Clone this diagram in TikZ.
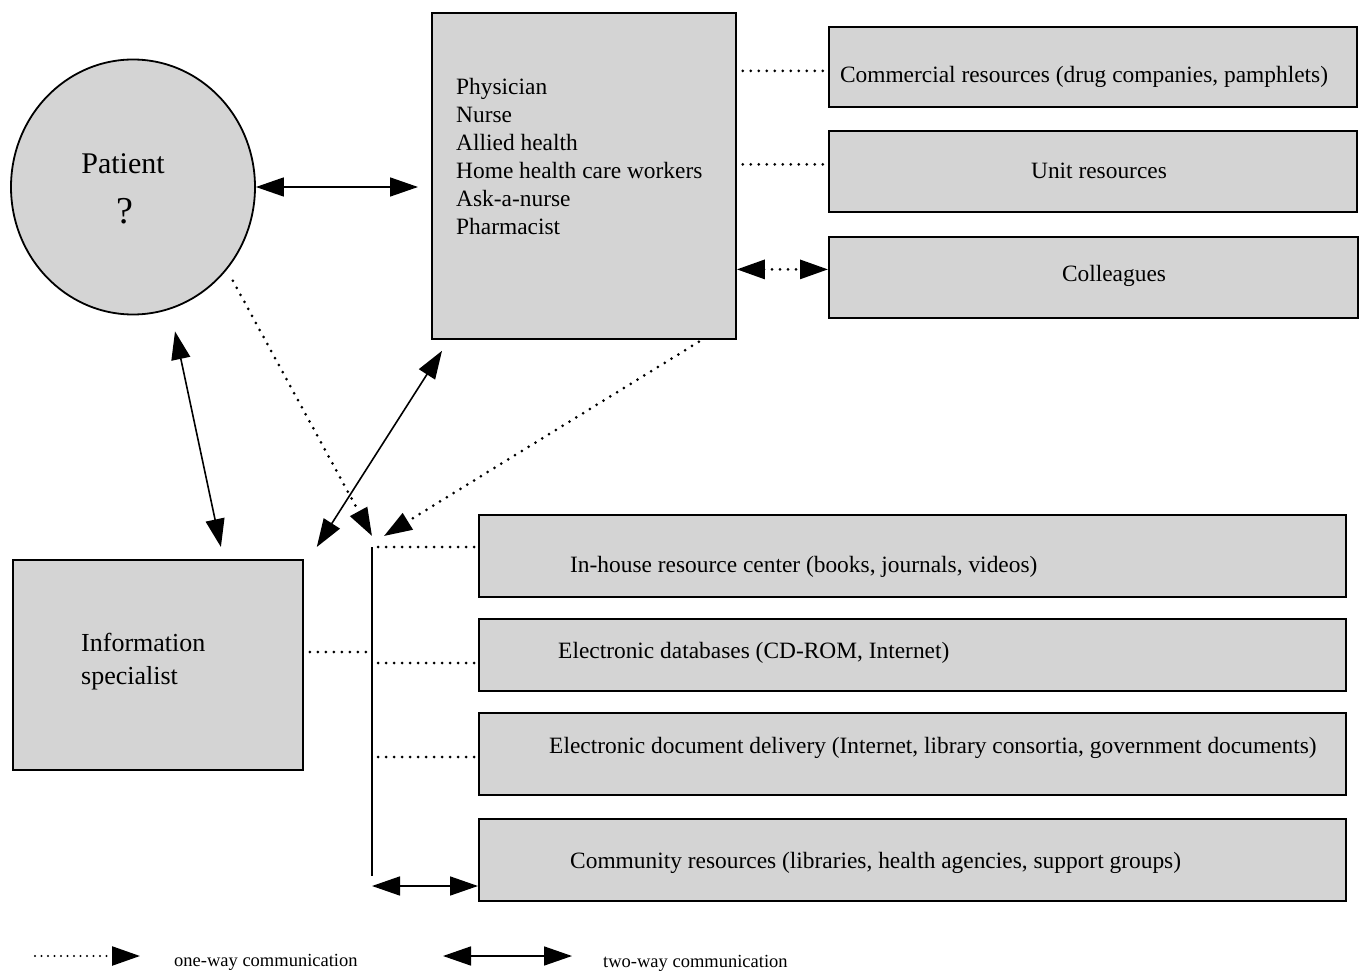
\documentclass[tikz,border=0pt]{standalone}
\usepackage{fontspec}
\setmainfont{Liberation Serif}
\usetikzlibrary{arrows.meta,shapes.geometric}
\begin{document}
\begin{tikzpicture}[x=1pt,y=-1pt,
  box/.style={draw=black,line width=1.8pt,fill=black!17,rectangle,inner sep=0pt,anchor=north west},
  txt/.style={inner sep=0pt,font=\fontsize{23.4}{28}\selectfont},
  onetip/.style={-{Triangle[length=28pt,width=19pt]}},
  twoway/.style={line width=1.6pt,{Triangle[length=28pt,width=19pt]}-{Triangle[length=28pt,width=19pt]}},
  dotline/.style={line width=3pt,dash pattern=on 0pt off 8pt,line cap=round},
  solidline/.style={line width=1.8pt}
]
\useasboundingbox (0,0) rectangle (1360,973);

% Patient
\node[draw=black,ellipse,line width=1.8pt,fill=black!17,minimum width=244pt,minimum height=255pt,inner sep=0pt] (pat) at (133,187) {};
\node[inner sep=0pt,font=\fontsize{30}{30}\selectfont] (pattxt) at (123,164) {Patient};
\node[inner sep=0pt,font=\fontsize{38}{38}\selectfont] (pq) at (125,211) {?};

% Physician box
\node[box,minimum width=304pt,minimum height=326pt] (phy) at (431,12) {};
\node[txt,anchor=west,align=left] (phytxt) at (456,156) {Physician\\Nurse\\Allied health\\Home health care workers\\Ask-a-nurse\\Pharmacist};

% right boxes
\node[box,minimum width=528pt,minimum height=80pt] (comm) at (828,26) {};
\node[txt] (commtxt) at (1084,77) {Commercial resources (drug companies, pamphlets)};
\node[box,minimum width=528pt,minimum height=81pt] (unit) at (828,130) {};
\node[txt] (unittxt) at (1099,171) {Unit resources};
\node[box,minimum width=529pt,minimum height=81pt] (coll) at (828,236) {};
\node[txt] (colltxt) at (1114,276) {Colleagues};

% Information specialist
\node[box,minimum width=290pt,minimum height=210pt] (info) at (12,559) {};
\node[inner sep=0pt,anchor=west,align=left,font=\fontsize{26}{33}\selectfont] (infotxt) at (81,662) {Information\\specialist};

% lower boxes
\node[box,minimum width=867pt,minimum height=82pt] (inh) at (478,514) {};
\node[txt,anchor=west] (inhtxt) at (570,567) {In-house resource center (books, journals, videos)};
\node[box,minimum width=867pt,minimum height=72pt] (edb) at (478,618) {};
\node[txt,anchor=west] (edbtxt) at (558,653) {Electronic databases (CD-ROM, Internet)};
\node[box,minimum width=867pt,minimum height=82pt] (edd) at (478,712) {};
\node[txt,anchor=west] (eddtxt) at (549,748) {Electronic document delivery (Internet, library consortia, government documents)};
\node[box,minimum width=867pt,minimum height=82pt] (com) at (478,818) {};
\node[txt,anchor=west] (comtxt) at (570,863) {Community resources (libraries, health agencies, support groups)};

% junction coordinates
\coordinate (ja) at (372,536);
\coordinate (jb) at (384,536);
\coordinate (jt) at (372,547);
\coordinate (ji) at (372,652);
\coordinate (j2) at (372,663);
\coordinate (j3) at (372,757);
\coordinate (jend) at (372,876);
\coordinate (j4) at (372,886);

% connectors
\draw[twoway] (pat.east) -- ([xshift=-13pt]phy.west |- pat.east);
\draw[twoway] ([shift={(42,16)}]pat.south) -- ([shift={(63,-12)}]info.north);
\draw[twoway] ([shift={(13,-12)}]info.north east) -- ([shift={(11,11)}]phy.south west);
\draw[dotline,onetip] ([shift={(13,3)}]pat.south east) -- (ja);
\draw[dotline,onetip] ([shift={(-38,2)}]phy.south east) -- (jb);

\draw[dotline] ([shift={(6,4)}]phy.east |- comm.west) -- ([shift={(0,4)}]comm.west);
\draw[dotline] ([shift={(6,-7)}]phy.east |- unit.west) -- ([shift={(0,-7)}]unit.west);
\draw[dotline,{Triangle[length=28pt,width=19pt]}-{Triangle[length=28pt,width=19pt]}] ([shift={(0,-8)}]phy.east |- coll.west) -- ([shift={(0,-8)}]coll.west);

\draw[solidline] (jt) -- (jend);
\draw[dotline] ([xshift=6pt]jt) -- ([xshift=-3pt]inh.west |- jt);
\draw[dotline] ([xshift=6pt]info.east |- ji) -- (ji);
\draw[dotline] ([xshift=6pt]j2) -- ([xshift=-3pt]edb.west |- j2);
\draw[dotline] ([xshift=6pt]j3) -- ([xshift=-3pt]edd.west |- j3);
\draw[twoway] (j4) -- (com.west |- j4);

% legend
\coordinate (l1a) at (35,956);
\coordinate (l1b) at (140,956);
\coordinate (l2a) at (443,956);
\coordinate (l2b) at (572,956);
\draw[dotline,line width=2.4pt,dash pattern=on 0pt off 6.5pt,onetip] (l1a) -- (l1b);
\node[inner sep=0pt,anchor=west,font=\fontsize{18.5}{18}\selectfont] (leg1) at (174,962) {one-way communication};
\draw[twoway] (l2a) -- (l2b);
\node[inner sep=0pt,anchor=west,font=\fontsize{18.5}{18}\selectfont] (leg2) at (603,963) {two-way communication};
\end{tikzpicture}
\end{document}
